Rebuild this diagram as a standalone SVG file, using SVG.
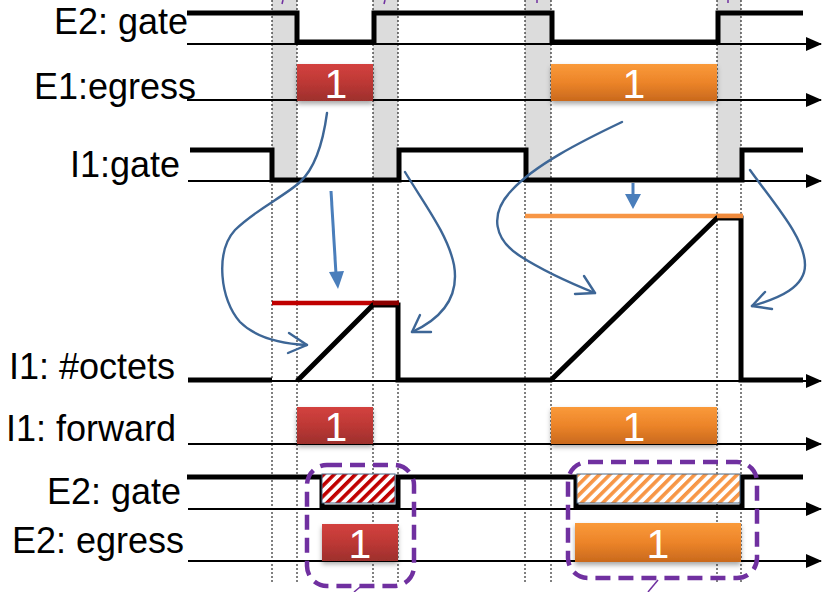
<svg xmlns="http://www.w3.org/2000/svg" width="827" height="592" viewBox="0 0 827 592">
  <defs>
    <style>
      .lbl { font-family: "Liberation Sans", Arial, sans-serif; font-size: 36px; fill: #000; }
      .num { font-family: "Liberation Sans", Arial, sans-serif; font-size: 41px; fill: #fff; text-anchor: middle; }
      .axis { stroke: #000; stroke-width: 2; fill: none; }
      .sig { stroke: #000; stroke-width: 5; fill: none; stroke-linejoin: miter; }
      .guide { stroke: #000; stroke-width: 1; stroke-dasharray: 2 2; fill: none; }
      .band { fill: #dcdcdc; }
      .flow { stroke: #3d6696; stroke-width: 2.4; fill: none; stroke-linecap: round; stroke-linejoin: round; }
      .drop { stroke: #4a7ebb; stroke-width: 3; fill: none; }
      .callout { stroke: #7030a0; stroke-width: 4.5; fill: none; stroke-dasharray: 15 8; }
      .tick { stroke: #7030a0; stroke-width: 1.5; fill: none; }
    </style>
    <marker id="ah" markerWidth="16" markerHeight="14" refX="15" refY="7" orient="auto" markerUnits="userSpaceOnUse">
      <path d="M0,0 L16,7 L0,14 Z" fill="#000"/>
    </marker>
    <linearGradient id="gRed" x1="0" y1="0" x2="0" y2="1">
      <stop offset="0" stop-color="#d3423f"/>
      <stop offset="0.5" stop-color="#bd3835"/>
      <stop offset="1" stop-color="#9d2f2c"/>
    </linearGradient>
    <linearGradient id="gOrange" x1="0" y1="0" x2="0" y2="1">
      <stop offset="0" stop-color="#fa9a3a"/>
      <stop offset="0.5" stop-color="#ec8429"/>
      <stop offset="1" stop-color="#c9691d"/>
    </linearGradient>
    <filter id="shadow" x="-10%" y="-20%" width="120%" height="160%">
      <feDropShadow dx="0" dy="3" stdDeviation="2.5" flood-color="#000" flood-opacity="0.35"/>
    </filter>
    <pattern id="hatchRed" width="7.5" height="7.5" patternUnits="userSpaceOnUse" patternTransform="rotate(45)">
      <rect width="7.5" height="7.5" fill="#fff"/>
      <rect width="3.6" height="7.5" fill="#c00000"/>
    </pattern>
    <pattern id="hatchOrange" width="7.5" height="7.5" patternUnits="userSpaceOnUse" patternTransform="rotate(45)">
      <rect width="7.5" height="7.5" fill="#fff"/>
      <rect width="3.6" height="7.5" fill="#f79646"/>
    </pattern>
  </defs>

  <rect width="827" height="592" fill="#fff"/>

  <!-- guard intervals -->
  <g id="bands">
    <rect class="band" x="272" y="0" width="25" height="181"/>
    <rect class="band" x="373" y="0" width="25" height="181"/>
    <rect class="band" x="525" y="0" width="26" height="181"/>
    <rect class="band" x="717" y="0" width="24" height="181"/>
  </g>

  <!-- vertical time guides -->
  <g id="guides">
    <line class="guide" x1="272" y1="0" x2="272" y2="584"/>
    <line class="guide" x1="297" y1="0" x2="297" y2="584"/>
    <line class="guide" x1="373" y1="0" x2="373" y2="584"/>
    <line class="guide" x1="398" y1="0" x2="398" y2="584"/>
    <line class="guide" x1="525" y1="0" x2="525" y2="584"/>
    <line class="guide" x1="551" y1="0" x2="551" y2="584"/>
    <line class="guide" x1="717" y1="0" x2="717" y2="584"/>
    <line class="guide" x1="741" y1="0" x2="741" y2="584"/>
  </g>

  <!-- time axes -->
  <g id="axes">
    <line class="axis" x1="187" y1="44" x2="821" y2="44" marker-end="url(#ah)"/>
    <line class="axis" x1="187" y1="100" x2="821" y2="100" marker-end="url(#ah)"/>
    <line class="axis" x1="188" y1="181" x2="821" y2="181" marker-end="url(#ah)"/>
    <line class="axis" x1="188" y1="381" x2="821" y2="381" marker-end="url(#ah)"/>
    <line class="axis" x1="188" y1="444" x2="821" y2="444" marker-end="url(#ah)"/>
    <line class="axis" x1="188" y1="509" x2="821" y2="509" marker-end="url(#ah)"/>
    <line class="axis" x1="188" y1="561" x2="821" y2="561" marker-end="url(#ah)"/>
  </g>

  <!-- row labels -->
  <g id="labels">
    <text class="lbl" x="54" y="34">E2: gate</text>
    <text class="lbl" x="34" y="99">E1:egress</text>
    <text class="lbl" x="70" y="177">I1:gate</text>
    <text class="lbl" x="9" y="379">I1: #octets</text>
    <text class="lbl" x="6" y="441">I1: forward</text>
    <text class="lbl" x="47" y="504">E2: gate</text>
    <text class="lbl" x="12" y="553">E2: egress</text>
  </g>

  <!-- E2 gate (top) -->
  <g id="e2-gate-top">
    <polyline class="sig" points="187,13 297,13 297,42 374,42 374,13 552,13 552,42 718,42 718,13 803,13"/>
  </g>

  <!-- E1 egress frames -->
  <g id="e1-egress">
    <rect x="297" y="64" width="76" height="37" fill="url(#gRed)" filter="url(#shadow)"/>
    <text class="num" x="336" y="98">1</text>
    <rect x="551" y="64" width="166" height="37" fill="url(#gOrange)" filter="url(#shadow)"/>
    <text class="num" x="634" y="98">1</text>
  </g>

  <!-- I1 gate -->
  <g id="i1-gate">
    <polyline class="sig" points="190,150 272,150 272,180 399,180 399,150 526,150 526,180 742,180 742,150 803,150"/>
  </g>

  <!-- I1 octet counter -->
  <g id="i1-octets">
    <line x1="272" y1="303" x2="399" y2="303" stroke="#c00000" stroke-width="4.5"/>
    <line x1="525" y1="216" x2="743" y2="216" stroke="#f79646" stroke-width="4.5"/>
    <polyline class="sig" points="188,380 272,380"/>
    <polyline class="sig" points="297,381 373,305 398,305 398,380 551,380 717,218 741,218 741,380 803,380"/>
    <line x1="373" y1="303" x2="399" y2="303" stroke="#8b0000" stroke-width="4.5"/>
    <line x1="717" y1="216" x2="743" y2="216" stroke="#f08a3c" stroke-width="4.5"/>
  </g>

  <!-- I1 forward frames -->
  <g id="i1-forward">
    <rect x="297" y="407" width="76" height="37" fill="url(#gRed)" filter="url(#shadow)"/>
    <text class="num" x="336" y="441">1</text>
    <rect x="551" y="407" width="166" height="37" fill="url(#gOrange)" filter="url(#shadow)"/>
    <text class="num" x="634" y="441">1</text>
  </g>

  <!-- E2 gate (bottom) -->
  <g id="e2-gate-bottom">
    <polyline class="sig" points="187,477 322,477 322,507 398,507 398,477 576,477 576,507 742,507 742,477 803,477"/>
    <rect x="322" y="474" width="73" height="29" fill="url(#hatchRed)" stroke="#4a6a8a" stroke-width="1"/>
    <rect x="577" y="474" width="163" height="29" fill="url(#hatchOrange)" stroke="#4a6a8a" stroke-width="1"/>
  </g>

  <!-- E2 egress frames -->
  <g id="e2-egress">
    <rect x="322" y="524" width="76" height="37" fill="url(#gRed)" filter="url(#shadow)"/>
    <text class="num" x="360" y="558">1</text>
    <rect x="575" y="523" width="166" height="39" fill="url(#gOrange)" filter="url(#shadow)"/>
    <text class="num" x="658" y="558">1</text>
  </g>

  <!-- dependency arrows -->
  <g id="connectors">
    <path class="flow" d="M327,113 C322,150 313,170 300,182 C285,196 255,210 235,230 C215,252 220,300 240,322 C258,340 285,344 307,345"/>
    <path class="flow" d="M289,333 L307,345 L288,353"/>
    <path class="flow" d="M405,172 C425,205 448,235 454,265 C460,300 438,320 412,332"/>
    <path class="flow" d="M420,315 L412,332 L431,332"/>
    <path class="flow" d="M622,122 C580,142 535,165 512,190 C488,215 495,240 520,256 C545,272 575,285 595,293"/>
    <path class="flow" d="M584,276 L595,293 L575,294"/>
    <path class="flow" d="M750,170 C775,205 805,238 805,265 C805,287 780,298 752,306"/>
    <path class="flow" d="M765,292 L752,306 L772,309"/>
    <line class="drop" x1="331" y1="191" x2="336" y2="274"/>
    <path d="M329,272 L344,271 L338,289 Z" fill="#4a7ebb"/>
    <line class="drop" x1="633" y1="183" x2="633" y2="196"/>
    <path d="M625,194 L641,194 L633,209 Z" fill="#4a7ebb"/>
  </g>

  <!-- highlight callouts -->
  <g id="callouts">
    <rect class="callout" x="307" y="465" width="107" height="121" rx="20"/>
    <rect class="callout" x="568" y="462" width="189" height="116" rx="20"/>
    <line class="tick" x1="360" y1="587" x2="354" y2="592"/>
    <line class="tick" x1="658" y1="580" x2="648" y2="592"/>
    <line class="tick" x1="283" y1="0" x2="282" y2="4"/>
    <line class="tick" x1="385" y1="0" x2="384" y2="4"/>
    <line class="tick" x1="537" y1="0" x2="537" y2="3"/>
    <line class="tick" x1="728" y1="0" x2="728" y2="3"/>
  </g>
</svg>
